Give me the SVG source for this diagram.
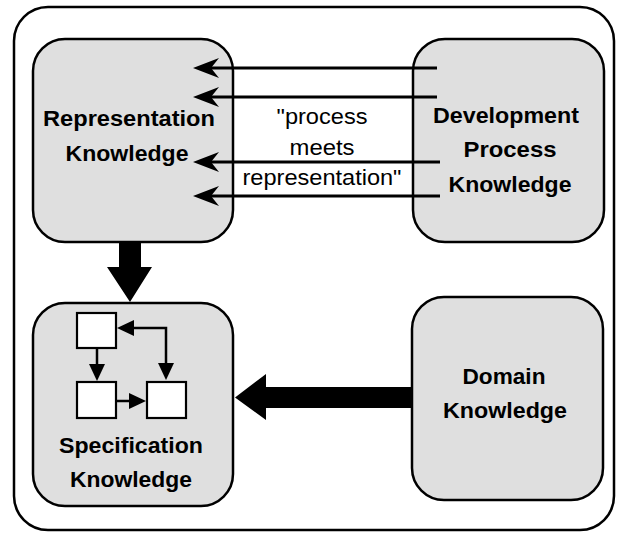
<svg xmlns="http://www.w3.org/2000/svg" width="618" height="537" viewBox="0 0 618 537">
<defs>
<style>
.frame{fill:#ffffff;stroke:#000;stroke-width:2.5}
.box{fill:#dfdfdf;stroke:#000;stroke-width:2.5}
.sq{fill:#ffffff;stroke:#000;stroke-width:2.2}
.lbl{font-family:"Liberation Sans",Arial,sans-serif;font-weight:bold;font-size:22px;fill:#000;text-anchor:middle}
.note{font-family:"Liberation Sans",Arial,sans-serif;font-size:22px;fill:#000;text-anchor:middle}
.thin{stroke:#000;stroke-width:3;fill:none}
.small{stroke:#000;stroke-width:2.5;fill:none}
.thick{fill:#000;stroke:none}
</style>
<marker id="barb" markerUnits="userSpaceOnUse" viewBox="-28 -11 30 22" markerWidth="30" markerHeight="22" refX="-12" refY="0" orient="auto">
<path d="M0,0 L-26,-10 L-18,0 L-26,10 Z" fill="#000"/>
</marker>
<marker id="tri" markerUnits="userSpaceOnUse" viewBox="0 -9 18 18" markerWidth="18" markerHeight="18" refX="0" refY="0" orient="auto-start-reverse">
<path d="M0,-8 L17,0 L0,8 Z" fill="#000"/>
</marker>
</defs>
<rect class="frame" x="14" y="7" width="600" height="523" rx="34" ry="34"/>
<g id="representation">
<rect class="box" x="33" y="39" width="200" height="203" rx="32" ry="32"/>
<text class="lbl" x="129" y="126" textLength="172" lengthAdjust="spacingAndGlyphs">Representation</text>
<text class="lbl" x="127" y="161" textLength="123" lengthAdjust="spacingAndGlyphs">Knowledge</text>
</g>
<g id="development">
<rect class="box" x="413" y="39" width="191" height="203" rx="32" ry="32"/>
<text class="lbl" x="506" y="123" textLength="146" lengthAdjust="spacingAndGlyphs">Development</text>
<text class="lbl" x="510" y="157" textLength="93" lengthAdjust="spacingAndGlyphs">Process</text>
<text class="lbl" x="510" y="192" textLength="123" lengthAdjust="spacingAndGlyphs">Knowledge</text>
</g>
<g id="specification">
<rect class="box" x="33" y="303" width="200" height="203" rx="32" ry="32"/>
<rect class="sq" x="77" y="313" width="39" height="35"/>
<rect class="sq" x="77" y="382" width="39" height="36"/>
<rect class="sq" x="147" y="382" width="39" height="36"/>
<path class="small" d="M97,348 V364" marker-end="url(#tri)"/>
<path class="small" d="M116,401 H129" marker-end="url(#tri)"/>
<path class="small" d="M134,328 H166 V363" marker-start="url(#tri)" marker-end="url(#tri)"/>
<text class="lbl" x="131" y="453" textLength="144" lengthAdjust="spacingAndGlyphs">Specification</text>
<text class="lbl" x="131" y="487" textLength="122" lengthAdjust="spacingAndGlyphs">Knowledge</text>
</g>
<g id="domain">
<rect class="box" x="412" y="297" width="191" height="203" rx="32" ry="32"/>
<text class="lbl" x="504" y="384" textLength="83" lengthAdjust="spacingAndGlyphs">Domain</text>
<text class="lbl" x="505" y="418" textLength="124" lengthAdjust="spacingAndGlyphs">Knowledge</text>
</g>
<g id="connectors">
<path class="thin" d="M437,68 H205" marker-end="url(#barb)"/>
<path class="thin" d="M437,97 H205" marker-end="url(#barb)"/>
<path class="thin" d="M440,162 H205" marker-end="url(#barb)"/>
<path class="thin" d="M440,196 H205" marker-end="url(#barb)"/>
<text class="note" x="322" y="124" textLength="91" lengthAdjust="spacingAndGlyphs">"process</text>
<text class="note" x="322" y="155" textLength="65" lengthAdjust="spacingAndGlyphs">meets</text>
<text class="note" x="322" y="185" textLength="159" lengthAdjust="spacingAndGlyphs">representation"</text>
<polygon class="thick" points="119,242 141,242 141,267 152,267 130,302 107,267 119,267"/>
<polygon class="thick" points="411,387 266,387 266,374 235,397.5 266,420 266,408 411,408"/>
</g>
</svg>
